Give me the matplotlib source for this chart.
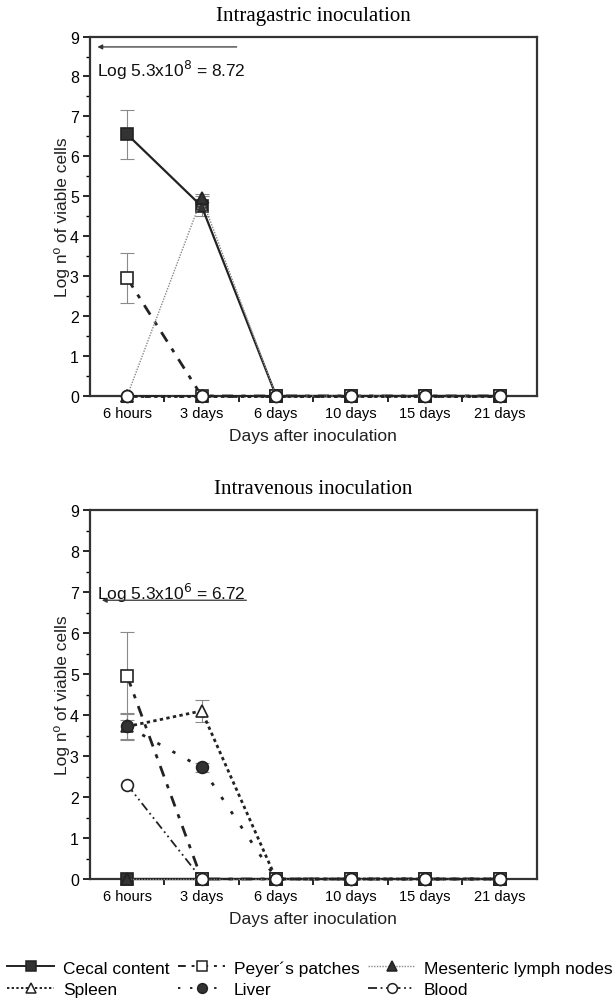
import matplotlib
matplotlib.use('Agg')
import matplotlib.pyplot as plt
from matplotlib.lines import Line2D

# categories on the x axis
days = ['6 hours', '3 days', '6 days', '10 days', '15 days', '21 days']

# intragastric inoculation (log nº of viable cells)
ig_cecal = [6.55, 4.75, 0, 0, 0, 0]
ig_cecal_err = [0.62, 0.25, 0, 0, 0, 0]
ig_peyer = [2.95, 0, 0, 0, 0, 0]
ig_peyer_err = [0.62, 0, 0, 0, 0, 0]
ig_mln = [0, 4.95, 0, 0, 0, 0]
ig_mln_err = [0, 0.1, 0, 0, 0, 0]
ig_spleen = [0, 0, 0, 0, 0, 0]
ig_liver = [0, 0, 0, 0, 0, 0]
ig_blood = [0, 0, 0, 0, 0, 0]

# intravenous inoculation
iv_cecal = [0, 0, 0, 0, 0, 0]
iv_peyer = [4.95, 0, 0, 0, 0, 0]
iv_peyer_err = [1.08, 0, 0, 0, 0, 0]
iv_mln = [0, 0, 0, 0, 0, 0]
iv_spleen = [3.72, 4.1, 0, 0, 0, 0]
iv_spleen_err = [0.3, 0.27, 0, 0, 0, 0]
iv_liver = [3.72, 2.72, 0, 0, 0, 0]
iv_liver_err = [0.32, 0.1, 0, 0, 0, 0]
iv_blood = [2.3, 0, 0, 0, 0, 0]

series_names = ['Cecal content', 'Peyer\u00b4s patches', 'Mesenteric lymph nodes',
                'Spleen', 'Liver', 'Blood']

plt.rcParams['font.family'] = ['Liberation Sans', 'DejaVu Sans']

# line / marker style for each series
styles = {
    'Cecal content': dict(color='#222222', lw=1.6, ls='-', marker='s', mfc='#333333', mec='#222222'),
    'Peyer\u00b4s patches': dict(color='#222222', lw=2.0, ls=(0, (4, 3, 1.5, 3)), marker='s', mfc='white', mec='#222222'),
    'Mesenteric lymph nodes': dict(color='#888888', lw=1.0, ls=(0, (1, 1)), marker='^', mfc='#333333', mec='#222222'),
    'Spleen': dict(color='#222222', lw=2.0, ls=(0, (1.2, 1.2)), marker='^', mfc='white', mec='#222222'),
    'Liver': dict(color='#222222', lw=2.0, ls=(0, (1.2, 5)), marker='o', mfc='#333333', mec='#222222'),
    'Blood': dict(color='#222222', lw=1.3, ls=(0, (5, 2, 1, 2, 1, 2)), marker='o', mfc='white', mec='#222222'),
}

x = list(range(1, len(days) + 1))


def draw_panel(ax, data, errs, title, note, note_y, arrow_y, arrow_x0, arrow_x1):
    for name in series_names:
        st = styles[name]
        yv = data[name]
        if name in errs:
            ax.errorbar(x, yv, yerr=errs[name], fmt='none', ecolor='#8a8a8a',
                        elinewidth=0.8, capsize=5, capthick=0.8, zorder=2)
        ax.plot(x, yv, color=st['color'], lw=st['lw'], ls=st['ls'], marker=st['marker'],
                ms=8.5, mfc=st['mfc'], mec=st['mec'], mew=1.2, clip_on=False, zorder=3)
    ax.set_xlim(0.5, 6.5)
    ax.set_ylim(0, 9)
    ax.set_xticks(x)
    ax.set_xticklabels(days)
    ax.set_xticks([i + 0.5 for i in range(1, 6)], minor=True)
    ax.tick_params(axis='x', which='major', length=0, labelsize=10.5, pad=7)
    ax.tick_params(axis='x', which='minor', length=4, width=1.2, direction='out')
    ax.set_yticks(range(0, 10))
    ax.set_yticks([i + 0.5 for i in range(0, 9)], minor=True)
    ax.tick_params(axis='y', which='major', length=5, width=1.2, labelsize=11.5, pad=3)
    ax.tick_params(axis='y', which='minor', length=3, width=1.0)
    for sp in ax.spines.values():
        sp.set_color('#333333')
        sp.set_linewidth(1.6)
    ax.set_xlabel('Days after inoculation', fontsize=12.5, color='#222222', labelpad=6)
    ax.set_ylabel('Log n\u00ba of viable cells', fontsize=12.5, color='#222222', labelpad=0)
    ax.set_title(title, family=['Liberation Serif', 'DejaVu Serif'], fontsize=15, pad=12)
    ax.text(0.59, note_y, note, fontsize=12.5, ha='left', va='center', color='#111111')
    ax.annotate('', xy=(arrow_x1, arrow_y), xytext=(arrow_x0, arrow_y),
                arrowprops=dict(arrowstyle='-|>', lw=0.9, color='#333333',
                                mutation_scale=7, shrinkA=0, shrinkB=0))


fig = plt.figure(figsize=(6.16, 10.04), dpi=100)
ax1 = fig.add_axes([0.146, 0.6046, 0.7256, 0.358])
ax2 = fig.add_axes([0.146, 0.1235, 0.7256, 0.3675])

ig_data = dict(zip(series_names, [ig_cecal, ig_peyer, ig_mln, ig_spleen, ig_liver, ig_blood]))
ig_errs = {'Cecal content': ig_cecal_err, 'Peyer\u00b4s patches': ig_peyer_err,
           'Mesenteric lymph nodes': ig_mln_err}
iv_data = dict(zip(series_names, [iv_cecal, iv_peyer, iv_mln, iv_spleen, iv_liver, iv_blood]))
iv_errs = {'Peyer\u00b4s patches': iv_peyer_err, 'Spleen': iv_spleen_err, 'Liver': iv_liver_err}

draw_panel(ax1, ig_data, ig_errs, 'Intragastric inoculation',
           r'Log 5.3x10$^8$ = 8.72', 8.18, 8.74, 2.47, 0.6)
draw_panel(ax2, iv_data, iv_errs, 'Intravenous inoculation',
           r'Log 5.3x10$^6$ = 6.72', 7.0, 6.8, 2.6, 0.66)

# legend along the bottom
handles = []
for name in series_names:
    st = styles[name]
    handles.append(Line2D([], [], color=st['color'], lw=min(st['lw'], 1.4), ls=st['ls'],
                          marker=st['marker'], ms=7, mfc=st['mfc'], mec=st['mec'], mew=1.1))
order = [0, 3, 1, 4, 2, 5]
fig.legend([handles[i] for i in order], [series_names[i] for i in order],
           loc='center', bbox_to_anchor=(0.503, 0.0245), ncol=3, frameon=False,
           fontsize=12.5, handlelength=2.7, handletextpad=0.5, columnspacing=0.5,
           labelspacing=0.35, borderaxespad=0)

fig.savefig('out.png', dpi=100)
plt.close(fig)
